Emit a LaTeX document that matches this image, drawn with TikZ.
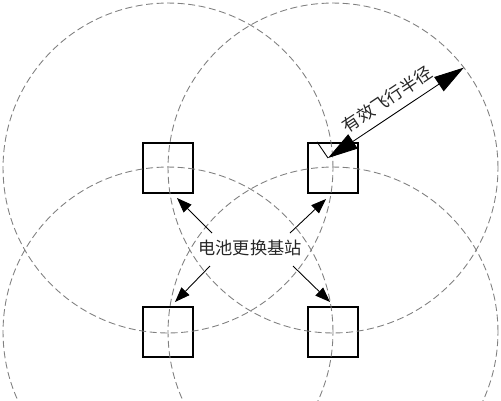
\documentclass[tikz,border=0pt]{standalone}
\usepackage{fontspec}
\newfontfamily\cjk{Noto Sans CJK SC}
\usetikzlibrary{arrows.meta,positioning,calc}

\begin{document}
\begin{tikzpicture}[
  x=0.02cm, y=-0.02cm,
  station/.style={draw, line width=1.3pt, minimum size=1cm, inner sep=0pt},
  flightzone/.style={draw=gray, line width=0.5pt, dash pattern=on 4pt off 2pt},
  pointer/.style={-{Triangle[length=0.3cm, width=0.22cm]}, line width=0.5pt},
  reach/.style={{Triangle[length=0.6cm, width=0.34cm]}-{Triangle[length=0.6cm, width=0.34cm]}, line width=0.5pt},
  caption/.style={font=\cjk\fontsize{9.8pt}{11pt}\selectfont, text=black!85},
]
\useasboundingbox (0,0) rectangle (501,400);
\clip (0,0) rectangle (501,400);

% battery swap stations
\node[station] (tl) at (168,168) {};
\node[station] (tr) at (333,168) {};
\node[station] (bl) at (168,332) {};
\node[station] (br) at (333,332) {};

% flight ranges
\foreach \s in {tl,tr,bl,br}
  \draw[flightzone] (\s.center) circle[radius=3.3cm];

\node[caption] (hub) at (250,248) {电池更换基站};

\draw[pointer] ([shift={(-38,-15)}]hub.center) -- ([shift={(9,30)}]tl.center);
\draw[pointer] ([shift={(40,-15)}]hub.center) -- ([shift={(-7,31)}]tr.center);
\draw[pointer] ([shift={(-40,18)}]hub.center) -- ([shift={(7,-30)}]bl.center);
\draw[pointer] ([shift={(43,18)}]hub.center) -- ([shift={(-3,-30)}]br.center);

% effective radius
\coordinate (foot) at ([shift={(-5,-10)}]tr.center);
\coordinate (rim) at ([shift={(37.5:3.3cm)}]tr.center);
\draw[line width=0.5pt] ([shift={(-16,0)}]tr.north) -- (foot);
\draw[reach] (foot) -- node[caption, sloped, above=1pt] (span) {有效飞行半径} (rim);

\end{tikzpicture}
\end{document}
